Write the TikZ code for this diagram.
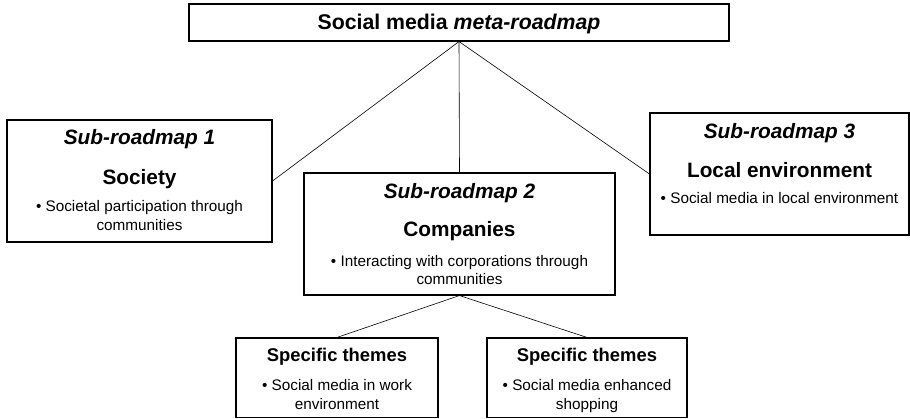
\documentclass[tikz,border=0pt]{standalone}
\usepackage{fontspec}
\setmainfont{Liberation Sans}
\begin{document}
\begin{tikzpicture}[x=1pt,y=-1pt,
  box/.style={draw=black,line width=1.1pt,rectangle,inner sep=0pt,anchor=center},
  link/.style={draw=black,line width=0.6pt},
  head/.style={anchor=base,inner sep=0pt,font=\fontsize{20.8}{24}\selectfont\bfseries},
  headit/.style={anchor=base,inner sep=0pt,font=\fontsize{20.8}{24}\selectfont\bfseries\itshape},
  spec/.style={anchor=base,inner sep=0pt,font=\fontsize{18.4}{22}\selectfont\bfseries},
  body/.style={anchor=base,inner sep=0pt,font=\fontsize{15.3}{18}\selectfont}]
\useasboundingbox (0,0) rectangle (910,419);
% boxes
\node[box,minimum width=540pt,minimum height=37pt] (top) at (459,22.5) {};
\node[box,minimum width=265pt,minimum height=122pt] (sub1) at (139.5,181) {};
\node[box,minimum width=311pt,minimum height=122pt] (sub2) at (459.5,234) {};
\node[box,minimum width=259pt,minimum height=122pt] (sub3) at (779.5,174) {};
\node[box,minimum width=202pt,minimum height=79.5pt] (spec1) at (337,377.75) {};
\node[box,minimum width=200pt,minimum height=79.5pt] (spec2) at (587,377.75) {};
% connectors
\draw[link] (top.south) -- (sub1.east);
\draw[link] (top.south) -- (sub2.north);
\draw[link] (top.south) -- (sub3.west);
\draw[link] (sub2.south) -- (spec1.north);
\draw[link] (sub2.south) -- (spec2.north);
% texts
\node[anchor=base,inner sep=0pt,font=\fontsize{21.3}{25}\selectfont\bfseries] (ttitle) at (459,30) {Social media \textit{meta-roadmap}};
\node[headit] (t1a) at (139.5,145) {Sub-roadmap 1};
\node[head] (t1b) at (139.5,185) {Society};
\node[body] (t1c) at (139.5,212) {• Societal participation through};
\node[body] (t1d) at (139.5,231) {communities};
\node[headit] (t2a) at (459.5,199) {Sub-roadmap 2};
\node[head] (t2b) at (459.5,237) {Companies};
\node[body] (t2c) at (459.5,266.5) {• Interacting with corporations through};
\node[body] (t2d) at (459.5,285) {communities};
\node[headit] (t3a) at (779.5,139) {Sub-roadmap 3};
\node[head] (t3b) at (779.5,178) {Local environment};
\node[body] (t3c) at (779.5,204) {• Social media in local environment};
\node[spec] (s1a) at (337,362) {Specific themes};
\node[body] (s1b) at (337,390) {• Social media in work};
\node[body] (s1c) at (337,409) {environment};
\node[spec] (s2a) at (587,362) {Specific themes};
\node[body] (s2b) at (587,390) {• Social media enhanced};
\node[body] (s2c) at (587,409) {shopping};
\end{tikzpicture}
\end{document}
